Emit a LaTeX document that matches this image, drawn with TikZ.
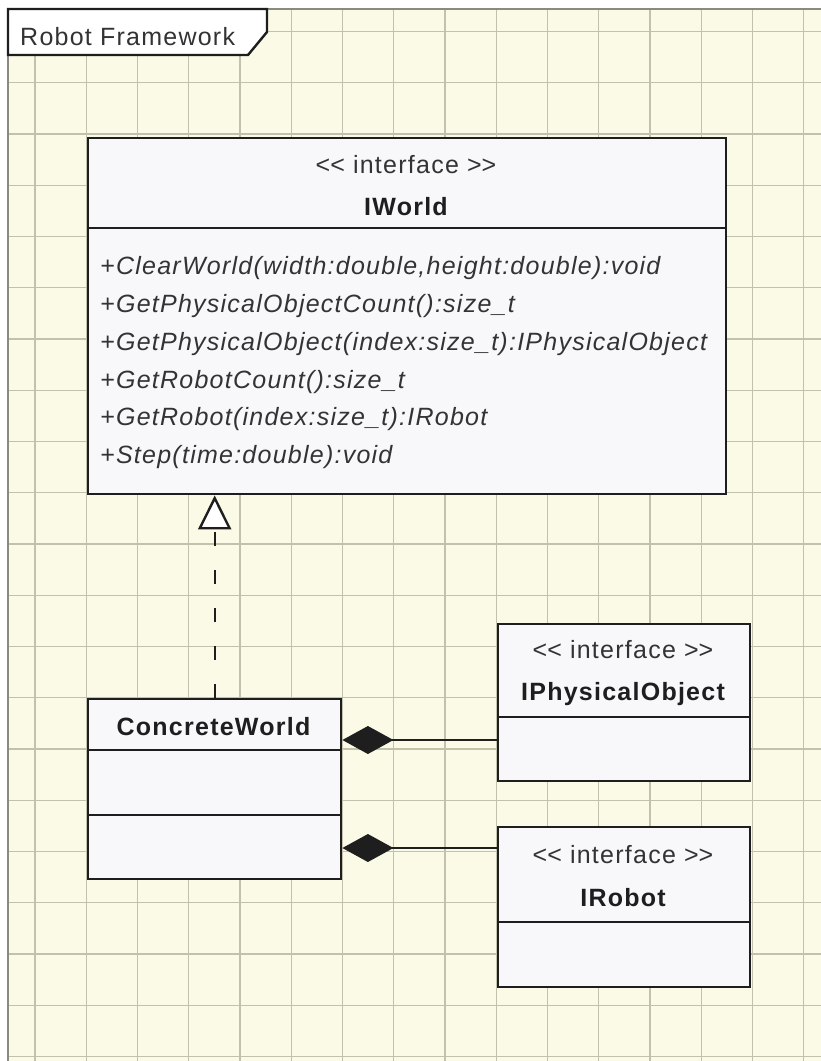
\documentclass[tikz,border=0pt]{standalone}
\usepackage{fontspec}
\setmainfont{Liberation Sans}[LetterSpace=5]
\usetikzlibrary{arrows.meta}
\definecolor{paper}{HTML}{FAFAE6}
\definecolor{gridline}{HTML}{C2C2AC}
\definecolor{framecol}{HTML}{8A8A80}
\definecolor{boxfill}{HTML}{F8F8FA}
\definecolor{ink}{HTML}{1E1E1E}
\definecolor{soft}{HTML}{333333}
\tikzset{
  umlbox/.style={draw=ink, line width=2.4pt, fill=boxfill, inner sep=0pt, anchor=north west},
  divider/.style={draw=ink, line width=2.4pt},
  stereo/.style={font=\fontsize{25}{30}\selectfont, text=soft, inner sep=0pt, anchor=base},
  cname/.style={font=\fontsize{25}{30}\selectfont\bfseries, text=ink, inner sep=0pt, anchor=base},
  member/.style={font=\fontsize{25}{30}\selectfont\itshape, text=soft, inner sep=0pt, anchor=base west},
  realize/.style={draw=ink, line width=2.4pt, dash pattern=on 14pt off 24pt,
    -{Triangle[open, length=34pt, width=33pt, fill=white]}},
  compose/.style={draw=ink, line width=2pt, {Diamond[length=51pt, width=28pt, fill=ink]}-},
}
\begin{document}
\begin{tikzpicture}[x=1pt, y=-1pt]
\useasboundingbox (0,0) rectangle (821,1061);
\fill[white] (0,0) rectangle (821,1061);
% package frame with its grid
\fill[paper] (8,9) rectangle (821,1061);
\foreach \i in {0,...,15}
  \draw[gridline, line width=1.4pt] ({35+51.25*\i},9) -- ({35+51.25*\i},1061);
\foreach \j in {0,...,20}
  \draw[gridline, line width=1.4pt] (8,{31.5+51.25*\j}) -- (821,{31.5+51.25*\j});
\draw[framecol, line width=2pt] (8,1061) -- (8,9) -- (821,9);
% frame name tab
\draw[ink, line width=2.4pt, fill=white] (8,9) -- (267,9) -- (267,32) -- (248,55) -- (8,55) -- cycle;
\node[anchor=base west, inner sep=0pt, font=\fontsize{25}{30}\selectfont, text=soft] (fname) at (20,45) {Robot Framework};

% IWorld
\node[umlbox, minimum width=638pt, minimum height=356pt] (iworld) at (87,137) {};
\draw[divider] (iworld.north west) ++(0,91) -- ++(638,0);
\node[stereo] (iworldst) at (406,173) {<\kern0pt< interface >\kern0pt>};
\node[cname] (iworldname) at (406,215) {IWorld};
\node[member] (m1) at (100,274) {+ClearWorld(width:double,height:double):void};
\node[member] (m2) at (100,312) {+GetPhysicalObjectCount():size\_t};
\node[member] (m3) at (100,350) {+GetPhysicalObject(index:size\_t):IPhysicalObject};
\node[member] (m4) at (100,388) {+GetRobotCount():size\_t};
\node[member] (m5) at (100,425) {+GetRobot(index:size\_t):IRobot};
\node[member] (m6) at (100,463) {+Step(time:double):void};

% ConcreteWorld
\node[umlbox, minimum width=253pt, minimum height=180pt] (cworld) at (87,698) {};
\draw[divider] (cworld.north west) ++(0,52) -- ++(253,0);
\draw[divider] (cworld.north west) ++(0,117) -- ++(253,0);
\node[cname] (cworldname) at (213.5,735) {ConcreteWorld};

% IPhysicalObject
\node[umlbox, minimum width=252pt, minimum height=157pt] (iphys) at (497,623) {};
\draw[divider] (iphys.north west) ++(0,94) -- ++(252,0);
\node[stereo] (iphysst) at (623,658) {<\kern0pt< interface >\kern0pt>};
\node[cname] (iphysname) at (623,700) {IPhysicalObject};

% IRobot
\node[umlbox, minimum width=252pt, minimum height=160pt] (irobot) at (497,826) {};
\draw[divider] (irobot.north west) ++(0,96) -- ++(252,0);
\node[stereo] (irobotst) at (623,863) {<\kern0pt< interface >\kern0pt>};
\node[cname] (irobotname) at (623,906) {IRobot};

% relations
\coordinate (physrow) at (0,740);
\coordinate (robotrow) at (0,848);
\draw[realize] (cworld.north) -- (cworld.north |- iworld.south);
\draw[compose] (cworld.east |- physrow) -- (iphys.west |- physrow);
\draw[compose] (cworld.east |- robotrow) -- (irobot.west |- robotrow);
\end{tikzpicture}
\end{document}
